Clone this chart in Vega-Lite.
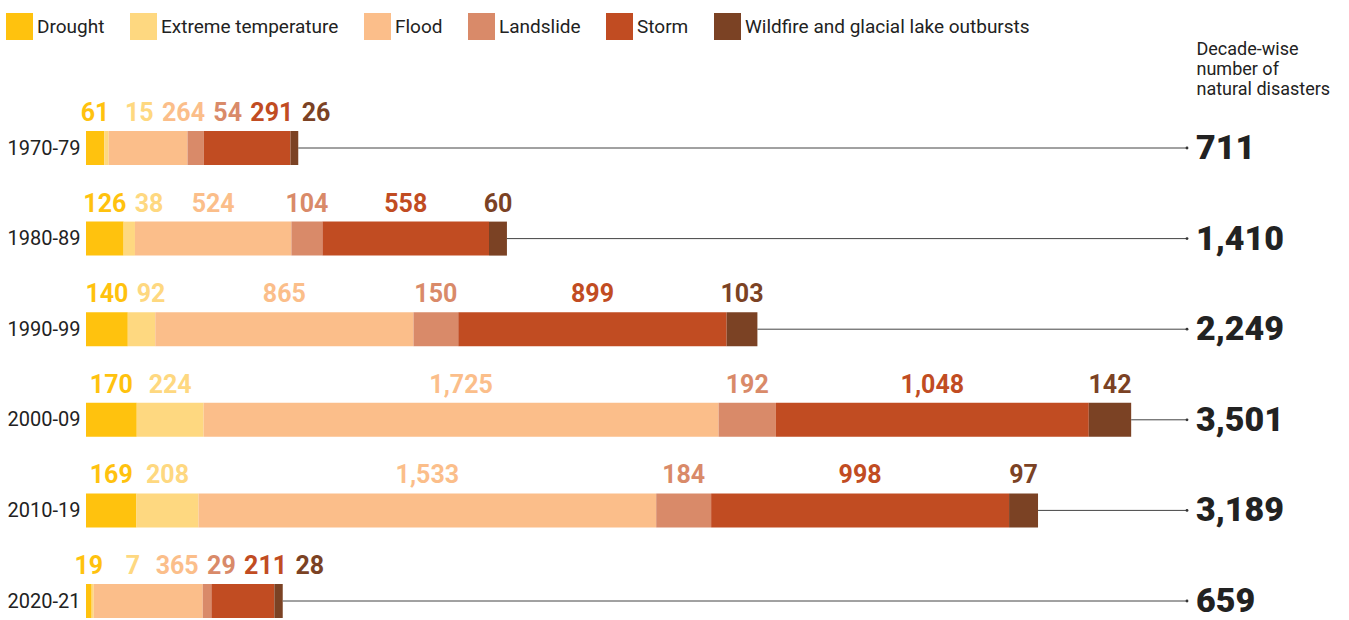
{
  "$schema": "https://vega.github.io/schema/vega-lite/v6.json",
  "autosize": {"type": "none"},
  "width": 1101,
  "height": 453,
  "padding": {"left": 86, "top": 148, "right": 162, "bottom": 19},
  "background": "white",
  "config": {
    "font": "Roboto",
    "view": {"stroke": null}
  },
  "data": {
    "values": [
      {"decade": "1970-79", "cat": "Drought", "n": 61},
      {"decade": "1970-79", "cat": "Extreme temperature", "n": 15},
      {"decade": "1970-79", "cat": "Flood", "n": 264},
      {"decade": "1970-79", "cat": "Landslide", "n": 54},
      {"decade": "1970-79", "cat": "Storm", "n": 291},
      {"decade": "1970-79", "cat": "Wildfire and glacial lake outbursts", "n": 26},
      {"decade": "1980-89", "cat": "Drought", "n": 126},
      {"decade": "1980-89", "cat": "Extreme temperature", "n": 38},
      {"decade": "1980-89", "cat": "Flood", "n": 524},
      {"decade": "1980-89", "cat": "Landslide", "n": 104},
      {"decade": "1980-89", "cat": "Storm", "n": 558},
      {"decade": "1980-89", "cat": "Wildfire and glacial lake outbursts", "n": 60},
      {"decade": "1990-99", "cat": "Drought", "n": 140},
      {"decade": "1990-99", "cat": "Extreme temperature", "n": 92},
      {"decade": "1990-99", "cat": "Flood", "n": 865},
      {"decade": "1990-99", "cat": "Landslide", "n": 150},
      {"decade": "1990-99", "cat": "Storm", "n": 899},
      {"decade": "1990-99", "cat": "Wildfire and glacial lake outbursts", "n": 103},
      {"decade": "2000-09", "cat": "Drought", "n": 170},
      {"decade": "2000-09", "cat": "Extreme temperature", "n": 224},
      {"decade": "2000-09", "cat": "Flood", "n": 1725},
      {"decade": "2000-09", "cat": "Landslide", "n": 192},
      {"decade": "2000-09", "cat": "Storm", "n": 1048},
      {"decade": "2000-09", "cat": "Wildfire and glacial lake outbursts", "n": 142},
      {"decade": "2010-19", "cat": "Drought", "n": 169},
      {"decade": "2010-19", "cat": "Extreme temperature", "n": 208},
      {"decade": "2010-19", "cat": "Flood", "n": 1533},
      {"decade": "2010-19", "cat": "Landslide", "n": 184},
      {"decade": "2010-19", "cat": "Storm", "n": 998},
      {"decade": "2010-19", "cat": "Wildfire and glacial lake outbursts", "n": 97},
      {"decade": "2020-21", "cat": "Drought", "n": 19},
      {"decade": "2020-21", "cat": "Extreme temperature", "n": 7},
      {"decade": "2020-21", "cat": "Flood", "n": 365},
      {"decade": "2020-21", "cat": "Landslide", "n": 29},
      {"decade": "2020-21", "cat": "Storm", "n": 211},
      {"decade": "2020-21", "cat": "Wildfire and glacial lake outbursts", "n": 28}
    ]
  },
  "transform": [
    {"stack": "n", "groupby": ["decade"], "sort": [{"field": "cat", "order": "ascending"}], "as": ["x0", "x1"]},
    {"joinaggregate": [{"op": "sum", "field": "n", "as": "total"}], "groupby": ["decade"]}
  ],
  "encoding": {
    "y": {
      "field": "decade",
      "type": "nominal",
      "scale": {"type": "point", "padding": 0},
      "sort": ["1970-79", "1980-89", "1990-99", "2000-09", "2010-19", "2020-21"],
      "axis": {
        "title": null,
        "domain": false,
        "ticks": false,
        "labelFontSize": 20,
        "labelColor": "#222222",
        "labelPadding": 6
      }
    }
  },
  "layer": [
    {
      "mark": {"type": "bar", "height": 34},
      "encoding": {
        "x": {
          "field": "x0",
          "type": "quantitative",
          "scale": {"domain": [0, 3688], "nice": false, "zero": true},
          "axis": {
            "orient": "top",
            "domain": false,
            "ticks": false,
            "labels": false,
            "grid": false,
            "title": ["Decade-wise", "number of", "natural disasters"],
            "titleFontSize": 18,
            "titleFontWeight": "normal",
            "titleColor": "#222222",
            "titleLineHeight": 20,
            "titleAlign": "left",
            "titleAnchor": "start",
            "titleBaseline": "top",
            "titleX": 1110,
            "titleY": -108
          }
        },
        "x2": {"field": "x1"},
        "color": {
          "field": "cat",
          "type": "nominal",
          "scale": {
            "domain": ["Drought", "Extreme temperature", "Flood", "Landslide", "Storm", "Wildfire and glacial lake outbursts"],
            "range": ["#FFC20E", "#FED880", "#FBBE8A", "#D98A69", "#C14C22", "#7B4224"]
          },
          "legend": {
            "title": null,
            "orient": "none",
            "direction": "horizontal",
            "legendX": -80,
            "legendY": -135,
            "symbolType": "square",
            "symbolSize": 729,
            "symbolStrokeWidth": 0,
            "symbolOpacity": 1,
            "labelFontSize": 19,
            "labelColor": "#222222",
            "labelOffset": 4,
            "labelLimit": 400,
            "columnPadding": 25
          }
        }
      }
    },
    {
      "transform": [
        {"calculate": "(datum.x0 + datum.x1) / 2", "as": "mid"},
        {"window": [{"op": "row_number", "as": "k"}], "groupby": ["decade"], "sort": [{"field": "cat", "order": "ascending"}]},
        {"calculate": "datum.mid - datum.k * 148", "as": "t"},
        {"window": [{"op": "max", "field": "t", "as": "cm"}], "groupby": ["decade"], "sort": [{"field": "cat", "order": "ascending"}], "frame": [null, 0]},
        {"calculate": "datum.cm + datum.k * 148", "as": "lx"}
      ],
      "mark": {"type": "text", "dy": -35, "fontSize": 25, "fontWeight": "bold", "baseline": "middle", "align": "center"},
      "encoding": {
        "x": {"field": "lx", "type": "quantitative"},
        "text": {"field": "n", "type": "quantitative", "format": ","},
        "color": {"field": "cat", "type": "nominal", "legend": null}
      }
    },
    {
      "transform": [{"filter": "datum.cat === 'Drought'"}],
      "mark": {"type": "rule", "color": "#444444", "strokeWidth": 1},
      "encoding": {
        "x": {"field": "total", "type": "quantitative"},
        "x2": {"value": "width"}
      }
    },
    {
      "transform": [{"filter": "datum.cat === 'Drought'"}],
      "mark": {"type": "point", "filled": true, "size": 8, "color": "#333333", "opacity": 1},
      "encoding": {
        "x": {"value": "width"}
      }
    },
    {
      "transform": [{"filter": "datum.cat === 'Drought'"}],
      "mark": {"type": "text", "align": "left", "baseline": "middle", "dx": 9, "dy": 1, "fontSize": 34, "fontWeight": 900, "color": "#222222"},
      "encoding": {
        "x": {"value": "width"},
        "text": {"field": "total", "type": "quantitative", "format": ","}
      }
    }
  ]
}
